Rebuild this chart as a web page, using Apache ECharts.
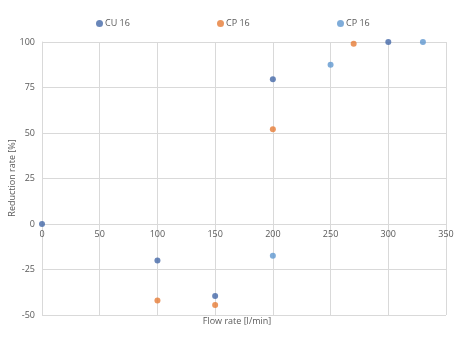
<!DOCTYPE html>
<html><head><meta charset="utf-8">
<script src="https://cdn.jsdelivr.net/npm/echarts@6/dist/echarts.min.js"></script>
<style>html,body{margin:0;padding:0;background:#fff}#c{width:474px;height:360px}</style>
</head><body><div id="c"></div>
<script>
const seriesNames = ['CU 16', 'CP 16', 'CP 16'];
const colors = ['#4468a8', '#e67c36', '#5f97cf'];
const cu16 = [[0, 0], [100, -20], [150, -39.5], [200, 79.5], [300, 100]];
const cp16a = [[100, -42], [150, -44.5], [200, 52], [270, 99]];
const cp16b = [[200, -17.5], [250, 87.5], [330, 100]];
const xTicks = [0, 50, 100, 150, 200, 250, 300, 350];
const yTicks = [-50, -25, 0, 25, 50, 75, 100];
const xName = 'Flow rate [l/min]';
const yName = 'Reduction rate [%]';

const font = 'Open Sans';
const textColor = '#595959';
const chart = echarts.init(document.getElementById('c'));
const dataSets = [cu16, cp16a, cp16b];
const legendX = [96, 217, 337];
chart.setOption({
  animation: false,
  textStyle: {fontFamily: font},
  grid: {left: 42, right: 28, top: 42, bottom: 45, containLabel: false},
  legend: seriesNames.map((n, i) => ({
    left: legendX[i], top: 19, itemWidth: 7, itemHeight: 7, itemGap: 3, padding: 0,
    icon: 'circle',
    textStyle: {fontFamily: font, fontSize: 9, color: textColor, padding: [0, 0, 0, -3]},
    data: [{name: n, itemStyle: {color: colors[i]}}]
  })),
  xAxis: {
    type: 'value', min: xTicks[0], max: xTicks[xTicks.length - 1], interval: 50,
    axisLine: {show: true, onZero: false, lineStyle: {color: '#d9d9d9'}},
    axisTick: {show: false},
    splitLine: {lineStyle: {color: '#d9d9d9'}},
    axisLabel: {color: textColor, fontSize: 9, margin: 6, fontFamily: font}
  },
  yAxis: {
    type: 'value', min: yTicks[0], max: yTicks[yTicks.length - 1], interval: 25,
    axisLine: {show: true, lineStyle: {color: '#d9d9d9'}},
    axisTick: {show: false},
    splitLine: {lineStyle: {color: '#d9d9d9'}},
    axisLabel: {color: textColor, fontSize: 9, margin: 7, fontFamily: font}
  },
  graphic: [
    {type: 'text', left: 'center', top: 317, style: {text: xName, fill: textColor, font: '9px "Open Sans"'}},
    {type: 'text', x: 12, y: 178, rotation: Math.PI / 2,
     style: {text: yName, fill: textColor, font: '9px "Open Sans"', align: 'center', verticalAlign: 'middle'}}
  ],
  series: dataSets.map((d, i) => ({
    type: 'scatter', name: seriesNames[i], data: d, symbolSize: 6,
    itemStyle: {color: colors[i]}
  }))
});
// move the x axis (line + labels) up to y = 0, as in the reference
const yZero = chart.convertToPixel({yAxisIndex: 0}, 0);
const yBottom = chart.convertToPixel({yAxisIndex: 0}, yTicks[0]);
chart.setOption({xAxis: {offset: yZero - yBottom}});
</script></body></html>
